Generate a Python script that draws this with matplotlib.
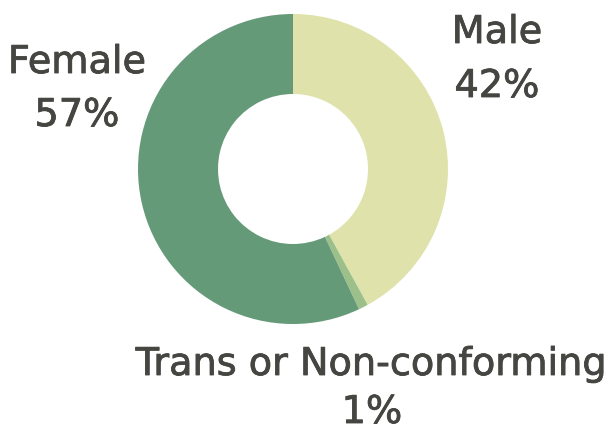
import matplotlib
matplotlib.use("Agg")
import matplotlib.pyplot as plt
import matplotlib.patheffects as pe

categories = ["Male", "Trans or Non-conforming", "Female"]
values = [42, 1, 57]
pct_labels = ["42%", "1%", "57%"]
colors = ["#dfe3ab", "#9dc08b", "#659a78"]
text_color = "#454541"

fig = plt.figure(figsize=(6.09, 4.30), dpi=100)
ax = fig.add_axes([0, 0, 1, 1])

ax.pie(values, colors=colors, startangle=-90, counterclock=True,
       center=(293, 169), radius=155,
       wedgeprops=dict(width=80, linewidth=0))

ax.set_xlim(0, 609)
ax.set_ylim(430, 0)
ax.set_aspect("equal")
ax.axis("off")

fs = 27.5
font = "DejaVu Sans"
effects = [pe.withStroke(linewidth=0.6, foreground=text_color)]
label_pos = {
    "Male": (497, 33, 87),
    "Trans or Non-conforming": (372, 365, 413),
    "Female": (77, 63, 116),
}
for cat, pct in zip(categories, pct_labels):
    x, y1, y2 = label_pos[cat]
    ax.text(x, y1, cat, ha="center", va="center", fontsize=fs,
            color=text_color, family=font, path_effects=effects)
    ax.text(x, y2, pct, ha="center", va="center", fontsize=fs,
            color=text_color, family=font, path_effects=effects)

fig.savefig("out.png", dpi=100)
